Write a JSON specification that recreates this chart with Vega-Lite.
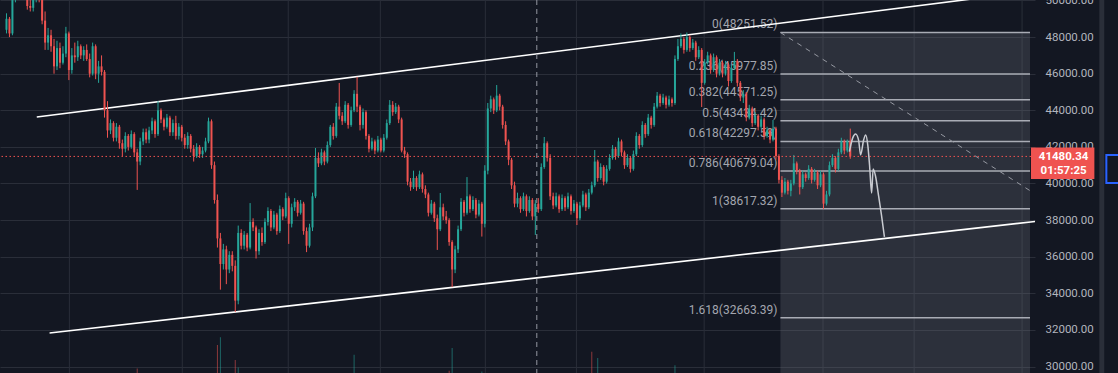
{
"$schema":"https://vega.github.io/schema/vega-lite/v6.json",
"width":1035,"height":373,
"autosize":{"type":"none"},
"padding":{"left":0,"top":0,"right":83,"bottom":0},
"background":"#131722",
"config":{"view":{"stroke":null},"font":"Roboto"},
"resolve":{"scale":{"y":"independent"},"axis":{"y":"independent"}},
"datasets":{
"one":[{}],
"vgrid":[{"i":21.17},{"i":59.17},{"i":94.83},{"i":125.83},{"i":161.17},{"i":191.83},{"i":234.83},{"i":274.83},{"i":305.5},{"i":341.83}],
"vol":[{"i":44,"v":1.2,"d":0},{"i":71,"v":7.5,"d":0},{"i":72,"v":9.6,"d":1},{"i":77,"v":3.5,"d":0},{"i":78,"v":1.5,"d":1},{"i":117,"v":4.9,"d":1},{"i":149,"v":0.6,"d":0},{"i":150,"v":6.7,"d":1},{"i":160,"v":0.4,"d":1},{"i":197,"v":5.7,"d":0},{"i":199,"v":4.0,"d":1},{"i":225,"v":2.1,"d":1}],
"fib":[{"p":48251.52,"t":"0(48251.52)"},{"p":45977.85,"t":"0.236(45977.85)"},{"p":44571.25,"t":"0.382(44571.25)"},{"p":43434.42,"t":"0.5(43434.42)"},{"p":42297.59,"t":"0.618(42297.59)"},{"p":40679.04,"t":"0.786(40679.04)"},{"p":38617.32,"t":"1(38617.32)"},{"p":32663.39,"t":"1.618(32663.39)"}],
"chan":[{"g":"u","i":10.2,"p":43630},{"g":"u","i":333,"p":50250},{"g":"d","i":14.5,"p":31830},{"g":"d","i":360,"p":38180}],
"diag":[{"i":260.5,"p":48251.52},{"i":344.5,"p":39610}],
"curve":[{"i":283.7,"p":41740},{"i":284.8,"p":42480},{"i":285.8,"p":42700},{"i":286.8,"p":42370},{"i":287.5,"p":41560},{"i":288.5,"p":42380},{"i":289.2,"p":42650},{"i":289.9,"p":42100},{"i":290.5,"p":41000},{"i":291.2,"p":39480},{"i":291.7,"p":40790},{"i":292.5,"p":40410},{"i":293.5,"p":39370},{"i":294.5,"p":38280},{"i":295.5,"p":37080}],
"tag":[{"p":41470,"t":"41480.34"},{"p":40683,"t":"01:57:25"}],
"candles":[
{"i":0,"o":48400,"h":49300,"l":48200,"c":49000},
{"i":1,"o":49000,"h":49100,"l":48000,"c":48200},
{"i":2,"o":48200,"h":50300,"l":48100,"c":50100},
{"i":3,"o":50100,"h":50900,"l":49900,"c":50600},
{"i":4,"o":50600,"h":51100,"l":50300,"c":50800},
{"i":5,"o":50800,"h":51200,"l":50400,"c":50500},
{"i":6,"o":50500,"h":50800,"l":50100,"c":50300},
{"i":7,"o":50300,"h":50500,"l":49500,"c":49700},
{"i":8,"o":49700,"h":50200,"l":49400,"c":49600},
{"i":9,"o":49600,"h":50400,"l":49400,"c":50200},
{"i":10,"o":50200,"h":50700,"l":49900,"c":50400},
{"i":11,"o":50400,"h":50600,"l":49900,"c":50100},
{"i":12,"o":50100,"h":50300,"l":48700,"c":48900},
{"i":13,"o":48900,"h":49400,"l":47300,"c":47700},
{"i":14,"o":47700,"h":48500,"l":47300,"c":48100},
{"i":15,"o":48100,"h":48400,"l":47200,"c":47500},
{"i":16,"o":47500,"h":47900,"l":46000,"c":46400},
{"i":17,"o":46400,"h":47800,"l":46200,"c":47400},
{"i":18,"o":47400,"h":47700,"l":46300,"c":46600},
{"i":19,"o":46600,"h":47500,"l":46500,"c":47100},
{"i":20,"o":47100,"h":48560,"l":46900,"c":48200},
{"i":21,"o":48200,"h":48300,"l":45650,"c":46200},
{"i":22,"o":46200,"h":47400,"l":46000,"c":47000},
{"i":23,"o":47000,"h":47700,"l":46600,"c":46900},
{"i":24,"o":46900,"h":47800,"l":46700,"c":47500},
{"i":25,"o":47500,"h":47600,"l":46800,"c":47000},
{"i":26,"o":47000,"h":47500,"l":46700,"c":47300},
{"i":27,"o":47300,"h":47600,"l":46700,"c":46800},
{"i":28,"o":46800,"h":47100,"l":45800,"c":46000},
{"i":29,"o":46000,"h":47700,"l":45900,"c":47500},
{"i":30,"o":47500,"h":47600,"l":45700,"c":46000},
{"i":31,"o":46000,"h":46700,"l":45500,"c":46400},
{"i":32,"o":46400,"h":47000,"l":45900,"c":46100},
{"i":33,"o":46100,"h":46200,"l":43600,"c":44000},
{"i":34,"o":44000,"h":44500,"l":42500,"c":42900},
{"i":35,"o":42900,"h":43500,"l":42700,"c":43300},
{"i":36,"o":43300,"h":43400,"l":42300,"c":42500},
{"i":37,"o":42500,"h":43300,"l":42300,"c":43100},
{"i":38,"o":43100,"h":43200,"l":41900,"c":42200},
{"i":39,"o":42200,"h":42400,"l":41500,"c":41900},
{"i":40,"o":41900,"h":42800,"l":41700,"c":42600},
{"i":41,"o":42600,"h":42700,"l":41800,"c":42000},
{"i":42,"o":42000,"h":42900,"l":41900,"c":42700},
{"i":43,"o":42700,"h":42800,"l":41500,"c":41700},
{"i":44,"o":41700,"h":41900,"l":39650,"c":41200},
{"i":45,"o":41200,"h":42500,"l":41000,"c":42300},
{"i":46,"o":42300,"h":43000,"l":42100,"c":42800},
{"i":47,"o":42800,"h":43000,"l":42200,"c":42400},
{"i":48,"o":42400,"h":43100,"l":42200,"c":42900},
{"i":49,"o":42900,"h":43600,"l":42700,"c":43400},
{"i":50,"o":43400,"h":43500,"l":42500,"c":42700},
{"i":51,"o":42700,"h":44500,"l":42600,"c":44000},
{"i":52,"o":44000,"h":44100,"l":43300,"c":43500},
{"i":53,"o":43500,"h":43600,"l":42900,"c":43100},
{"i":54,"o":43100,"h":43800,"l":43000,"c":43600},
{"i":55,"o":43600,"h":43700,"l":42600,"c":42800},
{"i":56,"o":42800,"h":43500,"l":42600,"c":43300},
{"i":57,"o":43300,"h":43700,"l":42400,"c":42600},
{"i":58,"o":42600,"h":43300,"l":42400,"c":43100},
{"i":59,"o":43100,"h":43200,"l":42300,"c":42500},
{"i":60,"o":42500,"h":42700,"l":41900,"c":42100},
{"i":61,"o":42100,"h":42800,"l":41900,"c":42600},
{"i":62,"o":42600,"h":42700,"l":41700,"c":41900},
{"i":63,"o":41900,"h":42100,"l":41200,"c":41500},
{"i":64,"o":41500,"h":42200,"l":41400,"c":42000},
{"i":65,"o":42000,"h":42100,"l":41400,"c":41600},
{"i":66,"o":41600,"h":42000,"l":41400,"c":41800},
{"i":67,"o":41800,"h":42500,"l":41700,"c":42300},
{"i":68,"o":42300,"h":43600,"l":42200,"c":43400},
{"i":69,"o":43400,"h":43500,"l":40800,"c":41000},
{"i":70,"o":41000,"h":41200,"l":38900,"c":39100},
{"i":71,"o":39100,"h":39400,"l":36500,"c":37000},
{"i":72,"o":37000,"h":37300,"l":34200,"c":35600},
{"i":73,"o":35600,"h":36700,"l":35300,"c":36400},
{"i":74,"o":36400,"h":36600,"l":34500,"c":35300},
{"i":75,"o":35300,"h":36300,"l":35100,"c":36100},
{"i":76,"o":36100,"h":36300,"l":35200,"c":35500},
{"i":77,"o":35500,"h":35800,"l":32980,"c":33600},
{"i":78,"o":33600,"h":37700,"l":33400,"c":37300},
{"i":79,"o":37300,"h":37500,"l":36400,"c":36600},
{"i":80,"o":36600,"h":37400,"l":36400,"c":37200},
{"i":81,"o":37200,"h":37300,"l":36300,"c":36500},
{"i":82,"o":36500,"h":38930,"l":36400,"c":37900},
{"i":83,"o":37900,"h":38100,"l":37400,"c":37600},
{"i":84,"o":37600,"h":37700,"l":35900,"c":36300},
{"i":85,"o":36300,"h":37500,"l":36100,"c":37300},
{"i":86,"o":37300,"h":37600,"l":36600,"c":36800},
{"i":87,"o":36800,"h":38100,"l":36700,"c":37900},
{"i":88,"o":37900,"h":38700,"l":37700,"c":38500},
{"i":89,"o":38500,"h":38600,"l":37400,"c":37600},
{"i":90,"o":37600,"h":38500,"l":37500,"c":38300},
{"i":91,"o":38300,"h":38400,"l":37200,"c":37400},
{"i":92,"o":37400,"h":38800,"l":37300,"c":38600},
{"i":93,"o":38600,"h":38700,"l":38000,"c":38200},
{"i":94,"o":38200,"h":39500,"l":38100,"c":39200},
{"i":95,"o":39200,"h":39300,"l":36700,"c":37800},
{"i":96,"o":37800,"h":38900,"l":37600,"c":38700},
{"i":97,"o":38700,"h":39200,"l":38500,"c":39000},
{"i":98,"o":39000,"h":39100,"l":38200,"c":38400},
{"i":99,"o":38400,"h":39100,"l":38300,"c":38900},
{"i":100,"o":38900,"h":39000,"l":37200,"c":37400},
{"i":101,"o":37400,"h":37600,"l":36250,"c":36600},
{"i":102,"o":36600,"h":37800,"l":36500,"c":37600},
{"i":103,"o":37600,"h":39500,"l":37400,"c":39300},
{"i":104,"o":39300,"h":41940,"l":39200,"c":41400},
{"i":105,"o":41400,"h":41700,"l":40900,"c":41100},
{"i":106,"o":41100,"h":41900,"l":41000,"c":41700},
{"i":107,"o":41700,"h":41800,"l":41000,"c":41200},
{"i":108,"o":41200,"h":42300,"l":41100,"c":42100},
{"i":109,"o":42100,"h":43200,"l":42000,"c":43100},
{"i":110,"o":43100,"h":43300,"l":42400,"c":42600},
{"i":111,"o":42600,"h":44400,"l":42500,"c":44200},
{"i":112,"o":44200,"h":45490,"l":43500,"c":43700},
{"i":113,"o":43700,"h":43900,"l":43200,"c":43400},
{"i":114,"o":43400,"h":44500,"l":43300,"c":44300},
{"i":115,"o":44300,"h":44400,"l":43000,"c":43200},
{"i":116,"o":43200,"h":44200,"l":43100,"c":44000},
{"i":117,"o":44000,"h":45100,"l":43900,"c":44900},
{"i":118,"o":44900,"h":45820,"l":43900,"c":44200},
{"i":119,"o":44200,"h":44300,"l":42900,"c":43200},
{"i":120,"o":43200,"h":44100,"l":43000,"c":43900},
{"i":121,"o":43900,"h":44000,"l":42400,"c":42600},
{"i":122,"o":42600,"h":42700,"l":41700,"c":41900},
{"i":123,"o":41900,"h":42500,"l":41800,"c":42300},
{"i":124,"o":42300,"h":42400,"l":41600,"c":41800},
{"i":125,"o":41800,"h":42600,"l":41700,"c":42400},
{"i":126,"o":42400,"h":42500,"l":41700,"c":41800},
{"i":127,"o":41800,"h":42700,"l":41700,"c":42500},
{"i":128,"o":42500,"h":43500,"l":42400,"c":43300},
{"i":129,"o":43300,"h":44560,"l":43200,"c":44300},
{"i":130,"o":44300,"h":44500,"l":43700,"c":43900},
{"i":131,"o":43900,"h":44400,"l":43800,"c":44200},
{"i":132,"o":44200,"h":44300,"l":43300,"c":43500},
{"i":133,"o":43500,"h":43600,"l":41700,"c":41800},
{"i":134,"o":41800,"h":42000,"l":41400,"c":41600},
{"i":135,"o":41600,"h":41700,"l":39900,"c":40100},
{"i":136,"o":40100,"h":40300,"l":39600,"c":39800},
{"i":137,"o":39800,"h":40700,"l":39700,"c":40300},
{"i":138,"o":40300,"h":40400,"l":39600,"c":39800},
{"i":139,"o":39800,"h":40700,"l":39700,"c":40500},
{"i":140,"o":40500,"h":40600,"l":39500,"c":39700},
{"i":141,"o":39700,"h":39900,"l":39200,"c":39400},
{"i":142,"o":39400,"h":39500,"l":38200,"c":38400},
{"i":143,"o":38400,"h":39100,"l":38300,"c":38900},
{"i":144,"o":38900,"h":39000,"l":37900,"c":38100},
{"i":145,"o":38100,"h":38300,"l":36370,"c":37500},
{"i":146,"o":37500,"h":39480,"l":37400,"c":38700},
{"i":147,"o":38700,"h":38900,"l":38000,"c":38200},
{"i":148,"o":38200,"h":38500,"l":37800,"c":38000},
{"i":149,"o":38000,"h":38100,"l":36600,"c":36800},
{"i":150,"o":36800,"h":36900,"l":34340,"c":35300},
{"i":151,"o":35300,"h":36600,"l":35100,"c":36400},
{"i":152,"o":36400,"h":37700,"l":36200,"c":37500},
{"i":153,"o":37500,"h":39200,"l":37400,"c":39000},
{"i":154,"o":39000,"h":39100,"l":38200,"c":38400},
{"i":155,"o":38400,"h":40350,"l":38300,"c":39300},
{"i":156,"o":39300,"h":39400,"l":38400,"c":38600},
{"i":157,"o":38600,"h":39300,"l":38500,"c":39100},
{"i":158,"o":39100,"h":39200,"l":38100,"c":38300},
{"i":159,"o":38300,"h":39100,"l":38200,"c":38900},
{"i":160,"o":38900,"h":39000,"l":37100,"c":37800},
{"i":161,"o":37800,"h":41000,"l":37600,"c":40700},
{"i":162,"o":40700,"h":44400,"l":40500,"c":44100},
{"i":163,"o":44100,"h":44800,"l":43900,"c":44600},
{"i":164,"o":44600,"h":44700,"l":43800,"c":44000},
{"i":165,"o":44000,"h":45380,"l":43900,"c":44800},
{"i":166,"o":44800,"h":44900,"l":44000,"c":44200},
{"i":167,"o":44200,"h":44300,"l":43000,"c":43200},
{"i":168,"o":43200,"h":43400,"l":42100,"c":42300},
{"i":169,"o":42300,"h":42400,"l":41000,"c":41300},
{"i":170,"o":41300,"h":41400,"l":39700,"c":39900},
{"i":171,"o":39900,"h":40100,"l":38700,"c":38900},
{"i":172,"o":38900,"h":39500,"l":38700,"c":39200},
{"i":173,"o":39200,"h":39300,"l":38400,"c":38600},
{"i":174,"o":38600,"h":39500,"l":38500,"c":39300},
{"i":175,"o":39300,"h":39400,"l":38200,"c":38500},
{"i":176,"o":38500,"h":39300,"l":38400,"c":39100},
{"i":177,"o":39100,"h":39200,"l":38000,"c":38200},
{"i":178,"o":38200,"h":39100,"l":37190,"c":38900},
{"i":179,"o":38900,"h":39200,"l":38400,"c":38600},
{"i":180,"o":38600,"h":41100,"l":38500,"c":40900},
{"i":181,"o":40900,"h":42540,"l":40800,"c":42200},
{"i":182,"o":42200,"h":42300,"l":41200,"c":41400},
{"i":183,"o":41400,"h":41600,"l":39100,"c":39300},
{"i":184,"o":39300,"h":39500,"l":38600,"c":38800},
{"i":185,"o":38800,"h":39500,"l":38700,"c":39300},
{"i":186,"o":39300,"h":39400,"l":38400,"c":38600},
{"i":187,"o":38600,"h":39400,"l":38500,"c":39200},
{"i":188,"o":39200,"h":39300,"l":38500,"c":38700},
{"i":189,"o":38700,"h":39500,"l":38600,"c":39300},
{"i":190,"o":39300,"h":39400,"l":38300,"c":38500},
{"i":191,"o":38500,"h":39100,"l":38400,"c":38900},
{"i":192,"o":38900,"h":39000,"l":37730,"c":38100},
{"i":193,"o":38100,"h":39000,"l":38000,"c":38800},
{"i":194,"o":38800,"h":39600,"l":38700,"c":39400},
{"i":195,"o":39400,"h":39500,"l":38500,"c":38700},
{"i":196,"o":38700,"h":39700,"l":38600,"c":39500},
{"i":197,"o":39500,"h":40100,"l":39400,"c":39900},
{"i":198,"o":39900,"h":41830,"l":39800,"c":41200},
{"i":199,"o":41200,"h":41300,"l":40100,"c":40300},
{"i":200,"o":40300,"h":41100,"l":40200,"c":40900},
{"i":201,"o":40900,"h":41000,"l":39900,"c":40100},
{"i":202,"o":40100,"h":41000,"l":40000,"c":40800},
{"i":203,"o":40800,"h":41600,"l":40700,"c":41400},
{"i":204,"o":41400,"h":42100,"l":41300,"c":41900},
{"i":205,"o":41900,"h":42000,"l":41300,"c":41500},
{"i":206,"o":41500,"h":42500,"l":41400,"c":42300},
{"i":207,"o":42300,"h":42400,"l":41500,"c":41700},
{"i":208,"o":41700,"h":41800,"l":40800,"c":41000},
{"i":209,"o":41000,"h":41600,"l":40900,"c":41400},
{"i":210,"o":41400,"h":41500,"l":40600,"c":40800},
{"i":211,"o":40800,"h":41800,"l":40700,"c":41600},
{"i":212,"o":41600,"h":42800,"l":41500,"c":42600},
{"i":213,"o":42600,"h":42700,"l":41900,"c":42100},
{"i":214,"o":42100,"h":43400,"l":42000,"c":43200},
{"i":215,"o":43200,"h":43300,"l":42500,"c":42700},
{"i":216,"o":42700,"h":43800,"l":42600,"c":43600},
{"i":217,"o":43600,"h":43700,"l":43000,"c":43200},
{"i":218,"o":43200,"h":44400,"l":43100,"c":44200},
{"i":219,"o":44200,"h":45000,"l":44100,"c":44800},
{"i":220,"o":44800,"h":44900,"l":44200,"c":44400},
{"i":221,"o":44400,"h":44900,"l":44300,"c":44700},
{"i":222,"o":44700,"h":44800,"l":44100,"c":44300},
{"i":223,"o":44300,"h":44800,"l":44200,"c":44600},
{"i":224,"o":44600,"h":44700,"l":44200,"c":44400},
{"i":225,"o":44400,"h":47000,"l":44300,"c":46800},
{"i":226,"o":46800,"h":47900,"l":46700,"c":47500},
{"i":227,"o":47500,"h":48200,"l":47400,"c":47900},
{"i":228,"o":47900,"h":48000,"l":47100,"c":47300},
{"i":229,"o":47300,"h":48250,"l":47200,"c":48000},
{"i":230,"o":48000,"h":48100,"l":47200,"c":47400},
{"i":231,"o":47400,"h":47900,"l":47300,"c":47700},
{"i":232,"o":47700,"h":47800,"l":46700,"c":46900},
{"i":233,"o":46900,"h":47500,"l":46800,"c":47300},
{"i":234,"o":47300,"h":47400,"l":44180,"c":45500},
{"i":235,"o":45500,"h":46800,"l":45400,"c":46600},
{"i":236,"o":46600,"h":47200,"l":46500,"c":47000},
{"i":237,"o":47000,"h":47100,"l":46000,"c":46200},
{"i":238,"o":46200,"h":47100,"l":46100,"c":46900},
{"i":239,"o":46900,"h":47000,"l":45800,"c":46000},
{"i":240,"o":46000,"h":46800,"l":45900,"c":46600},
{"i":241,"o":46600,"h":46700,"l":45800,"c":46000},
{"i":242,"o":46000,"h":46700,"l":45900,"c":46500},
{"i":243,"o":46500,"h":46600,"l":45300,"c":45600},
{"i":244,"o":45600,"h":46500,"l":45500,"c":46300},
{"i":245,"o":46300,"h":47190,"l":46200,"c":46700},
{"i":246,"o":46700,"h":46800,"l":45300,"c":45500},
{"i":247,"o":45500,"h":45600,"l":44500,"c":44700},
{"i":248,"o":44700,"h":45100,"l":44400,"c":44900},
{"i":249,"o":44900,"h":45000,"l":43400,"c":43600},
{"i":250,"o":43600,"h":44300,"l":43500,"c":44100},
{"i":251,"o":44100,"h":44200,"l":43100,"c":43300},
{"i":252,"o":43300,"h":43900,"l":43200,"c":43700},
{"i":253,"o":43700,"h":43800,"l":42900,"c":43100},
{"i":254,"o":43100,"h":43700,"l":43000,"c":43500},
{"i":255,"o":43500,"h":43600,"l":42400,"c":42600},
{"i":256,"o":42600,"h":43100,"l":42500,"c":42900},
{"i":257,"o":42900,"h":43000,"l":42200,"c":42400},
{"i":258,"o":42400,"h":43470,"l":42300,"c":43000},
{"i":259,"o":43000,"h":43100,"l":41300,"c":41500},
{"i":260,"o":41500,"h":41600,"l":40000,"c":40200},
{"i":261,"o":40200,"h":40400,"l":39260,"c":39500},
{"i":262,"o":39500,"h":40300,"l":39400,"c":40100},
{"i":263,"o":40100,"h":40200,"l":39400,"c":39600},
{"i":264,"o":39600,"h":40200,"l":39300,"c":40000},
{"i":265,"o":40000,"h":41560,"l":39900,"c":41100},
{"i":266,"o":41100,"h":41200,"l":40500,"c":40700},
{"i":267,"o":40700,"h":40800,"l":39400,"c":39800},
{"i":268,"o":39800,"h":40700,"l":39700,"c":40500},
{"i":269,"o":40500,"h":40600,"l":40100,"c":40300},
{"i":270,"o":40300,"h":41000,"l":40200,"c":40800},
{"i":271,"o":40800,"h":40900,"l":40000,"c":40200},
{"i":272,"o":40200,"h":40800,"l":40100,"c":40600},
{"i":273,"o":40600,"h":40700,"l":39700,"c":39900},
{"i":274,"o":39900,"h":40700,"l":39800,"c":40500},
{"i":275,"o":40500,"h":40600,"l":38610,"c":38900},
{"i":276,"o":38900,"h":39600,"l":38800,"c":39400},
{"i":277,"o":39400,"h":41200,"l":39300,"c":41000},
{"i":278,"o":41000,"h":41600,"l":40900,"c":41400},
{"i":279,"o":41400,"h":41500,"l":40600,"c":40800},
{"i":280,"o":40800,"h":41900,"l":40700,"c":41700},
{"i":281,"o":41700,"h":42500,"l":41600,"c":42300},
{"i":282,"o":42300,"h":42400,"l":41600,"c":41800},
{"i":283,"o":41800,"h":42400,"l":41700,"c":42300},
{"i":284,"o":42300,"h":43000,"l":41350,"c":41480}
]},
"layer":[
{"data":{"name":"vol"},"mark":{"type":"bar","width":1,"opacity":0.55},
 "encoding":{
  "x":{"field":"i","type":"quantitative","scale":{"domain":[-0.5,344.5],"nice":false,"zero":false},"axis":null},
  "y":{"field":"v","type":"quantitative","scale":{"domain":[0,100],"nice":false},"axis":null},
  "color":{"condition":{"test":"datum.d==1","value":"#26a69a"},"value":"#ef5350"}}},
{"data":{"name":"candles"},"mark":{"type":"rule","strokeWidth":0,"opacity":0},
  "encoding":{
   "x":{"field":"i","type":"quantitative","scale":{"domain":[-0.5,344.5],"nice":false,"zero":false},"axis":null},
   "y":{"field":"l","type":"quantitative","scale":{"domain":[29645,50027],"nice":false,"zero":false},
     "axis":{"orient":"right","values":[30000,32000,34000,36000,38000,40000,42000,44000,46000,48000,50000],"format":".2f","title":null,"grid":true,"gridColor":"#2a2e39","gridWidth":1,"ticks":false,"domain":false,"labelPadding":10,"labelFont":"Roboto","labelFontSize":11.5,"labelColor":"#b2b5be","labelBaseline":"middle","labelOverlap":false,"zindex":0}}}},
{"data":{"name":"vgrid"},"mark":{"type":"rule","color":"#2a2e39","strokeWidth":1},
  "encoding":{"x":{"field":"i","type":"quantitative","scale":{"domain":[-0.5,344.5],"nice":false,"zero":false},"axis":null}}},
{"data":{"name":"one"},"mark":{"type":"rect","color":"#787b86","opacity":0.25},
  "encoding":{
   "x":{"datum":260.5,"type":"quantitative","scale":{"domain":[-0.5,344.5],"nice":false,"zero":false},"axis":null},
   "x2":{"datum":344.5},
   "y":{"datum":48251.52,"type":"quantitative","scale":{"domain":[29645,50027],"nice":false,"zero":false},"axis":null},
   "y2":{"datum":29645}}},
{"data":{"name":"fib"},"mark":{"type":"rule","color":"#a9acb5","strokeWidth":1.5},
  "encoding":{
   "x":{"datum":260.5,"type":"quantitative","scale":{"domain":[-0.5,344.5],"nice":false,"zero":false},"axis":null},
   "x2":{"datum":344.5},
   "y":{"field":"p","type":"quantitative","scale":{"domain":[29645,50027],"nice":false,"zero":false},"axis":null}}},
{"data":{"name":"fib"},"mark":{"type":"text","align":"right","baseline":"bottom","dy":-1,"font":"Roboto","fontSize":12,"color":"#a3a6af"},
  "encoding":{
   "x":{"datum":259.5,"type":"quantitative","scale":{"domain":[-0.5,344.5],"nice":false,"zero":false},"axis":null},
   "y":{"field":"p","type":"quantitative","scale":{"domain":[29645,50027],"nice":false,"zero":false},"axis":null},
   "text":{"field":"t"}}},
{"data":{"name":"chan"},"mark":{"type":"line","color":"#ffffff","strokeWidth":1.6,"clip":true},
  "encoding":{
   "x":{"field":"i","type":"quantitative","scale":{"domain":[-0.5,344.5],"nice":false,"zero":false},"axis":null},
   "y":{"field":"p","type":"quantitative","scale":{"domain":[29645,50027],"nice":false,"zero":false},"axis":null},
   "detail":{"field":"g"}}},
{"data":{"name":"diag"},"mark":{"type":"line","color":"#9598a1","strokeWidth":1,"strokeDash":[5,5],"clip":true},
  "encoding":{
   "x":{"field":"i","type":"quantitative","scale":{"domain":[-0.5,344.5],"nice":false,"zero":false},"axis":null},
   "y":{"field":"p","type":"quantitative","scale":{"domain":[29645,50027],"nice":false,"zero":false},"axis":null}}},
{"data":{"name":"one"},"mark":{"type":"rule","color":"#9598a1","strokeWidth":1,"strokeDash":[5,4]},
  "encoding":{"x":{"datum":178.5,"type":"quantitative","scale":{"domain":[-0.5,344.5],"nice":false,"zero":false},"axis":null}}},
{"data":{"name":"candles"},"mark":{"type":"rule","strokeWidth":1,"clip":true},
  "encoding":{
   "x":{"field":"i","type":"quantitative","scale":{"domain":[-0.5,344.5],"nice":false,"zero":false},"axis":null},
   "y":{"field":"l","type":"quantitative","scale":{"domain":[29645,50027],"nice":false,"zero":false},"axis":null},
   "y2":{"field":"h"},
   "color":{"condition":{"test":"datum.c>=datum.o","value":"#26a69a"},"value":"#ef5350"}}},
{"data":{"name":"candles"},"mark":{"type":"bar","width":2,"clip":true},
  "encoding":{
   "x":{"field":"i","type":"quantitative","scale":{"domain":[-0.5,344.5],"nice":false,"zero":false},"axis":null},
   "y":{"field":"o","type":"quantitative","scale":{"domain":[29645,50027],"nice":false,"zero":false},"axis":null},
   "y2":{"field":"c"},
   "color":{"condition":{"test":"datum.c>=datum.o","value":"#26a69a"},"value":"#ef5350"}}},
{"data":{"name":"one"},"mark":{"type":"rule","color":"#ef5350","strokeWidth":1,"strokeDash":[1.5,2.5]},
  "encoding":{"y":{"datum":41480.34,"type":"quantitative","scale":{"domain":[29645,50027],"nice":false,"zero":false},"axis":null}}},
{"data":{"name":"curve"},"mark":{"type":"line","color":"#c9cbd1","strokeWidth":1.5,"interpolate":"monotone"},
  "encoding":{
   "x":{"field":"i","type":"quantitative","scale":{"domain":[-0.5,344.5],"nice":false,"zero":false},"axis":null},
   "y":{"field":"p","type":"quantitative","scale":{"domain":[29645,50027],"nice":false,"zero":false},"axis":null}}},
{"data":{"name":"one"},"mark":{"type":"rect","color":"#2a2e39"},
  "encoding":{
   "x":{"datum":367.83,"type":"quantitative","scale":{"domain":[-0.5,344.5],"nice":false,"zero":false},"axis":null},
   "x2":{"datum":369.5},
   "y":{"datum":50027,"type":"quantitative","scale":{"domain":[29645,50027],"nice":false,"zero":false},"axis":null},
   "y2":{"datum":29645}}},
{"data":{"name":"one"},"mark":{"type":"rect","fillOpacity":0,"stroke":"#2962ff","strokeWidth":2},
  "encoding":{
   "x":{"datum":370.2,"type":"quantitative","scale":{"domain":[-0.5,344.5],"nice":false,"zero":false},"axis":null},
   "x2":{"datum":380},
   "y":{"datum":41558,"type":"quantitative","scale":{"domain":[29645,50027],"nice":false,"zero":false},"axis":null},
   "y2":{"datum":40028}}},
{"data":{"name":"one"},"mark":{"type":"rect","color":"#ef5350"},
  "encoding":{
   "x":{"datum":344.83,"type":"quantitative","scale":{"domain":[-0.5,344.5],"nice":false,"zero":false},"axis":null},
   "x2":{"datum":366.17},
   "y":{"datum":41967,"type":"quantitative","scale":{"domain":[29645,50027],"nice":false,"zero":false},"axis":null},
   "y2":{"datum":40247}}},
{"data":{"name":"tag"},"mark":{"type":"text","align":"center","baseline":"middle","font":"Roboto","fontSize":11.5,"fontWeight":"bold","color":"#ffffff"},
  "encoding":{
   "x":{"datum":355.8,"type":"quantitative","scale":{"domain":[-0.5,344.5],"nice":false,"zero":false},"axis":null},
   "y":{"field":"p","type":"quantitative","scale":{"domain":[29645,50027],"nice":false,"zero":false},"axis":null},
   "text":{"field":"t"}}}
]
}
